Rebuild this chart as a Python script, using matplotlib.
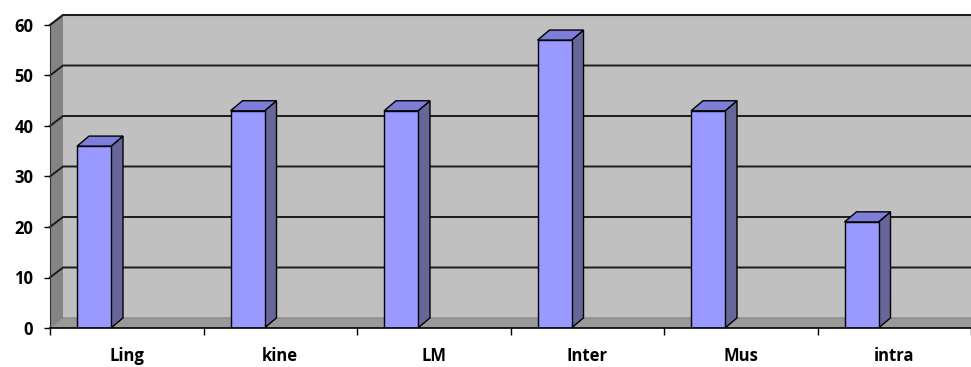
import numpy as np
import matplotlib.pyplot as plt
from matplotlib.patches import Polygon

categories = ['Ling', 'kine', 'LM', 'Inter', 'Mus', 'intra']
values = [36, 43, 43, 57, 43, 21]
y_ticks = [0, 10, 20, 30, 40, 50, 60]

plt.rcParams['font.family'] = ['Open Sans', 'DejaVu Sans']

n = len(categories)
ymax = y_ticks[-1]

fig = plt.figure(figsize=(9.71, 3.67), dpi=100)
ax = fig.add_axes([50 / 971, 39 / 367, 921 / 971, 316 / 367])
ax.set_xlim(0, n)
ax.set_ylim(0, 316 / 5.05)

# depth of the 3d box (walls) and of the columns, in data units
dx, dy = 13 / (921 / n), 10 / 5.05
bdx, bdy = 12 / (921 / n), 2.0

# walls and floor
ax.add_patch(Polygon([(dx, dy), (n + dx, dy), (n + dx, ymax + dy), (dx, ymax + dy)],
                     fc='#c0c0c0', ec='none', zorder=1, clip_on=False))
ax.add_patch(Polygon([(0, 0), (dx, dy), (dx, ymax + dy), (0, ymax)],
                     fc='#848484', ec='none', zorder=1))
ax.add_patch(Polygon([(0, 0), (n, 0), (n + dx, dy), (dx, dy)],
                     fc='#9a9a9a', ec='none', zorder=1))
ax.plot([0, dx, n + dx], [ymax, ymax + dy, ymax + dy], color='#6a6a6a', lw=1.5,
        zorder=2, clip_on=False)
ax.plot([0, dx, n + dx], [0, dy, dy], color='#8a8a8a', lw=1.0, zorder=2)

# gridlines run across the side wall and the back wall
for v in y_ticks[1:]:
    ax.plot([0, dx, n + dx], [v, v + dy, v + dy], color='#1c1c1c', lw=1.4,
            zorder=2, clip_on=False)

# 3d columns
w = 34 / (921 / n)
off = 27 / (921 / n)
for i, v in enumerate(values):
    x0 = i + off
    ax.add_patch(Polygon([(x0 + w, 0), (x0 + w + bdx, bdy), (x0 + w + bdx, v + bdy), (x0 + w, v)],
                         fc='#666699', ec='black', lw=1, zorder=3))
    ax.add_patch(Polygon([(x0, v), (x0 + w, v), (x0 + w + bdx, v + bdy), (x0 + bdx, v + bdy)],
                         fc='#7e7ed8', ec='black', lw=1, zorder=3))
    ax.add_patch(Polygon([(x0, 0), (x0 + w, 0), (x0 + w, v), (x0, v)],
                         fc='#9999ff', ec='black', lw=1, zorder=4))

for s in ['top', 'right']:
    ax.spines[s].set_visible(False)
ax.spines['left'].set_bounds(0, ymax)
ax.spines['left'].set_color('#333333')
ax.spines['bottom'].set_color('black')
ax.spines['bottom'].set_linewidth(1.2)
ax.spines['bottom'].set_zorder(5)

ax.set_yticks(y_ticks)
ax.set_yticklabels([str(t) for t in y_ticks], fontsize=12, fontweight='bold')
ax.tick_params(axis='y', length=4, width=1, pad=8)

ax.set_xticks(np.arange(n + 1))
ax.set_xticklabels([])
ax.set_xticks(np.arange(n) + 0.5, minor=True)
ax.set_xticklabels(categories, minor=True, fontsize=12, fontweight='bold')
ax.tick_params(axis='x', which='major', length=5, width=1)
ax.tick_params(axis='x', which='minor', length=0, pad=14)

plt.savefig('out.png', dpi=100)
